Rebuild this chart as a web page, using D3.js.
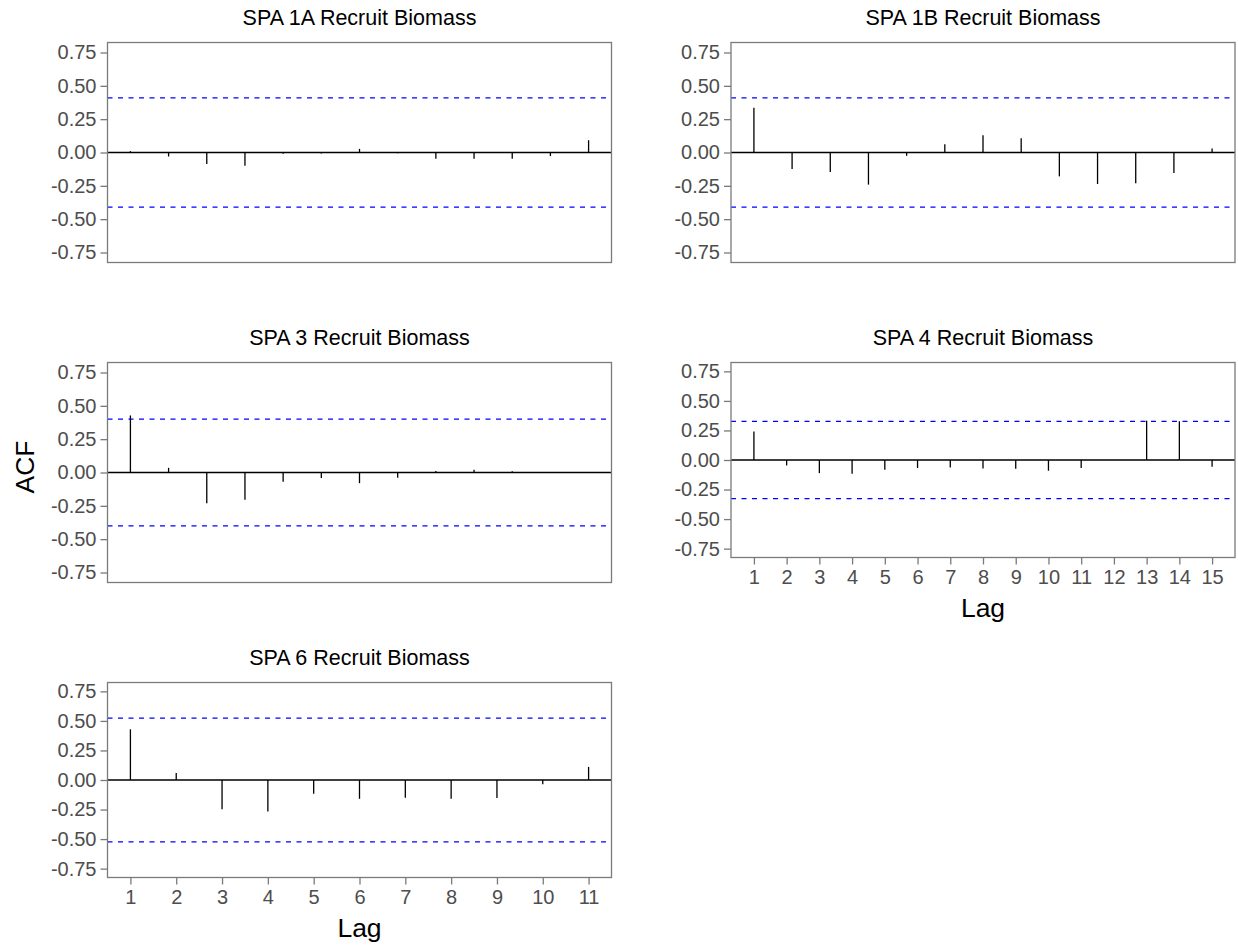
<!DOCTYPE html>
<html>
<head>
<meta charset="utf-8">
<script src="https://cdn.jsdelivr.net/npm/d3@7"></script>
<style>
  html, body { margin: 0; padding: 0; background: #fff; }
  svg { display: block; font-family: 'Liberation Sans', Arial, sans-serif; }
</style>
</head>
<body>
<svg id="chart" width="1238" height="947"></svg>
<script>
// ACF values by lag (lag 1..n)
const acfSpa1A = [0.01, -0.03, -0.087, -0.10, -0.01, -0.008, 0.027, -0.005, -0.047, -0.047, -0.047, -0.027, 0.092];
const acfSpa1B = [0.336, -0.124, -0.147, -0.241, -0.025, 0.062, 0.129, 0.107, -0.179, -0.236, -0.231, -0.154, 0.03];
const acfSpa3  = [0.428, 0.035, -0.231, -0.204, -0.07, -0.042, -0.08, -0.04, 0.012, 0.02, 0.01, 0.0, 0.0];
const acfSpa4  = [0.242, -0.046, -0.111, -0.117, -0.083, -0.068, -0.063, -0.071, -0.074, -0.091, -0.068, 0.0, 0.333, 0.328, -0.057];
const acfSpa6  = [0.429, 0.06, -0.247, -0.267, -0.116, -0.159, -0.151, -0.159, -0.153, -0.037, 0.111];

const panelTitles = ['SPA 1A Recruit Biomass', 'SPA 1B Recruit Biomass', 'SPA 3 Recruit Biomass',
                     'SPA 4 Recruit Biomass', 'SPA 6 Recruit Biomass'];
const ciBounds = [0.41, 0.41, 0.40, 0.327, 0.524];
const yTicks = [-0.75, -0.5, -0.25, 0, 0.25, 0.5, 0.75];

// layout of each facet (pixel boxes), kept apart from data
const panels = [
  { series: acfSpa1A, x: 107.5, y: 42.5,  w: 504, h: 220, xAxis: false },
  { series: acfSpa1B, x: 731,   y: 42.5,  w: 504, h: 220, xAxis: false },
  { series: acfSpa3,  x: 107.5, y: 362.5, w: 504, h: 220, xAxis: false },
  { series: acfSpa4,  x: 731,   y: 362.5, w: 504, h: 195, xAxis: true },
  { series: acfSpa6,  x: 107.5, y: 682.5, w: 504, h: 195, xAxis: true }
];

const svg = d3.select('#chart');
const tickGrey = '#4d4d4d';
const borderGrey = '#7a7a7a';

panels.forEach((p, i) => {
  const data = p.series.map((v, k) => ({ lag: k + 1, acf: v }));
  const lagMax = data.length;
  const pad = 0.05 * (lagMax - 1);

  const x = d3.scaleLinear().domain([1 - pad, lagMax + pad]).range([0, p.w]);
  const y = d3.scaleLinear().domain([-0.825, 0.825]).range([p.h, 0]);

  const g = svg.append('g').attr('transform', `translate(${p.x},${p.y})`);

  // title
  g.append('text')
    .attr('x', p.w / 2)
    .attr('y', -18)
    .attr('text-anchor', 'middle')
    .attr('font-size', 21.5)
    .attr('fill', '#000')
    .text(panelTitles[i]);

  // y axis
  const yAxis = g.append('g').call(
    d3.axisLeft(y).tickValues(yTicks).tickSize(7).tickPadding(4).tickFormat(d3.format('.2f'))
  );
  yAxis.select('.domain').remove();
  yAxis.selectAll('line').attr('stroke', borderGrey).attr('stroke-width', 1.3);
  yAxis.selectAll('text')
    .attr('fill', tickGrey)
    .attr('font-size', 20)
    .attr('font-family', "'Liberation Sans', Arial, sans-serif")
    .text(d => d3.format('.2f')(d).replace('−', '-'));

  // x axis (only on bottom-most panels)
  if (p.xAxis) {
    const xAxis = g.append('g')
      .attr('transform', `translate(0,${p.h})`)
      .call(d3.axisBottom(x).tickValues(d3.range(1, lagMax + 1)).tickSize(7).tickPadding(5).tickFormat(d3.format('d')));
    xAxis.select('.domain').remove();
    xAxis.selectAll('line').attr('stroke', borderGrey).attr('stroke-width', 1.3);
    xAxis.selectAll('text')
      .attr('fill', tickGrey)
      .attr('font-size', 20)
      .attr('font-family', "'Liberation Sans', Arial, sans-serif");

    g.append('text')
      .attr('x', p.w / 2)
      .attr('y', p.h + 59)
      .attr('text-anchor', 'middle')
      .attr('font-size', 26.5)
      .attr('fill', '#000')
      .text('Lag');
  }

  // confidence bounds
  g.selectAll('.ci')
    .data([ciBounds[i], -ciBounds[i]])
    .join('line')
    .attr('class', 'ci')
    .attr('x1', 0).attr('x2', p.w)
    .attr('y1', d => y(d)).attr('y2', d => y(d))
    .attr('stroke', '#0000ff')
    .attr('stroke-width', 1.2)
    .attr('stroke-dasharray', '5,5.5');

  // zero line
  g.append('line')
    .attr('x1', 0).attr('x2', p.w)
    .attr('y1', y(0)).attr('y2', y(0))
    .attr('stroke', '#000')
    .attr('stroke-width', 1.3);

  // ACF spikes
  g.selectAll('.spike')
    .data(data)
    .join('line')
    .attr('class', 'spike')
    .attr('x1', d => x(d.lag)).attr('x2', d => x(d.lag))
    .attr('y1', y(0)).attr('y2', d => y(d.acf))
    .attr('stroke', '#000')
    .attr('stroke-width', 1.3);

  // panel border
  g.append('rect')
    .attr('width', p.w)
    .attr('height', p.h)
    .attr('fill', 'none')
    .attr('stroke', borderGrey)
    .attr('stroke-width', 1.3);
});

// shared y label
svg.append('text')
  .attr('transform', 'translate(34,467) rotate(-90)')
  .attr('text-anchor', 'middle')
  .attr('font-size', 26.5)
  .attr('fill', '#000')
  .text('ACF');
</script>
</body>
</html>
